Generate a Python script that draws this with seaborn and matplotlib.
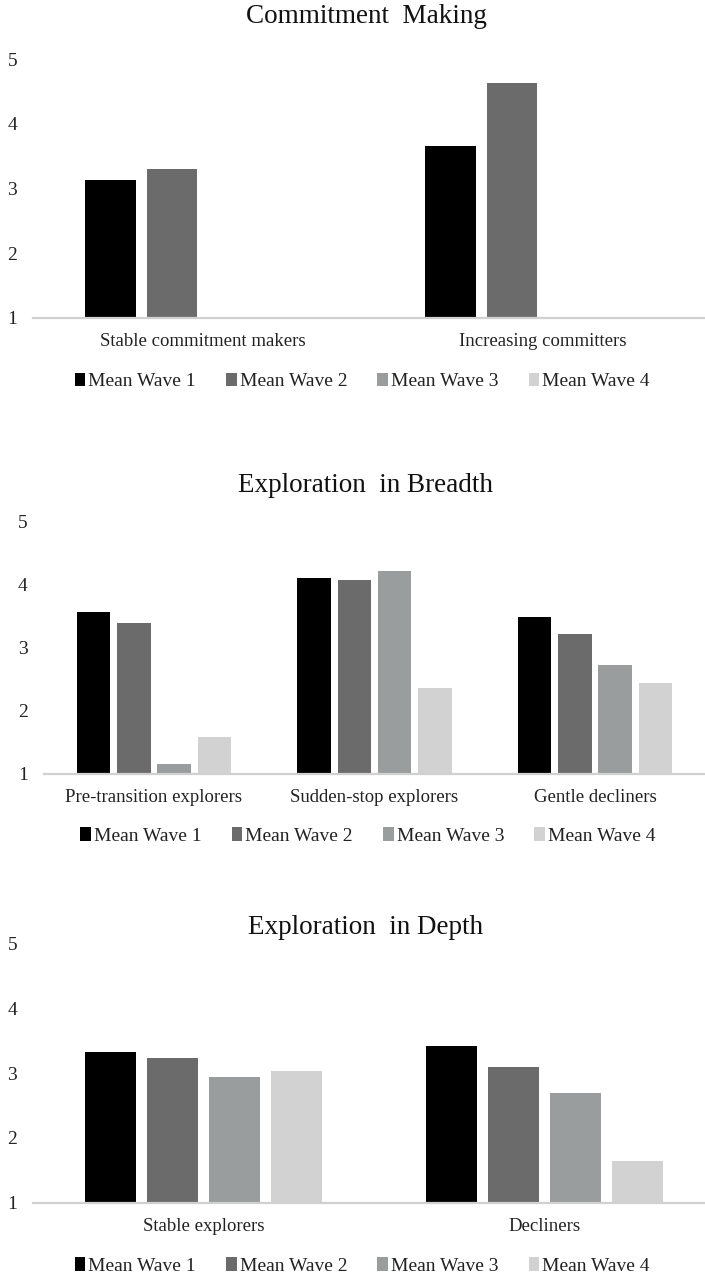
import matplotlib

matplotlib.use("Agg")
import matplotlib.pyplot as plt
import pandas as pd
import seaborn as sns
from matplotlib.patches import Patch

sns.set_theme(style="white")
plt.rcParams["font.family"] = ["Liberation Serif", "DejaVu Serif"]

waves = ["Mean Wave 1", "Mean Wave 2", "Mean Wave 3", "Mean Wave 4"]
wave_colors = ["#000000", "#6b6b6b", "#9a9d9e", "#d2d2d2"]

# Commitment Making (only waves 1-2 reported)
commit_groups = ["Stable commitment makers", "Increasing committers"]
commit_w1 = [3.13, 3.66]
commit_w2 = [3.31, 4.64]

# Exploration in Breadth
breadth_groups = ["Pre-transition explorers", "Sudden-stop explorers", "Gentle decliners"]
breadth_w1 = [3.57, 4.10, 3.49]
breadth_w2 = [3.40, 4.07, 3.22]
breadth_w3 = [1.16, 4.22, 2.73]
breadth_w4 = [1.59, 2.36, 2.44]

# Exploration in Depth
depth_groups = ["Stable explorers", "Decliners"]
depth_w1 = [3.32, 3.41]
depth_w2 = [3.23, 3.09]
depth_w3 = [2.94, 2.69]
depth_w4 = [3.03, 1.65]


def long_frame(groups, series):
    rows = []
    for wave, vals in zip(waves, series):
        for g, v in zip(groups, vals):
            rows.append({"group": g, "wave": wave, "value": v})
    return pd.DataFrame(rows)


W, H = 705, 1274
fig = plt.figure(figsize=(W / 100, H / 100), dpi=100)


def px_axes(left, right, top, bottom):
    return fig.add_axes([left / W, 1 - bottom / H, (right - left) / W, (bottom - top) / H])


def draw_panel(ax, df, groups, title, spacing, title_base, width, gap):
    sns.barplot(data=df, x="group", y="value", hue="wave", order=groups,
                hue_order=waves, palette=wave_colors, saturation=1,
                width=width, gap=gap, linewidth=0, errorbar=None,
                legend=False, ax=ax)
    left_px = ax.get_position().x0 * W
    right_px = ax.get_position().x1 * W
    ax.set_xlim(-0.5, -0.5 + (right_px - left_px) / spacing)
    ax.set_ylim(1, 5)
    ax.set_yticks([1, 2, 3, 4, 5])
    ax.set_xlabel("")
    ax.set_ylabel("")
    sns.despine(ax=ax, left=True)
    ax.spines["bottom"].set_color("#d0d0d0")
    ax.spines["bottom"].set_linewidth(1.6)
    ax.tick_params(axis="y", length=0, pad=11.5, labelsize=14, labelcolor="#222222")
    ax.tick_params(axis="x", length=0, pad=11, labelsize=13.5, labelcolor="#222222")
    fig.text(366 / W, 1 - title_base / H, title, ha="center", va="baseline",
             fontsize=19.5, color="#111111")
    handles = [Patch(facecolor=c, edgecolor="none", label=w)
               for w, c in zip(waves, wave_colors)]
    ax.legend(handles=handles, loc="center", bbox_to_anchor=(0.49, -0.245),
              ncol=4, frameon=False, fontsize=14, handlelength=0.55,
              handleheight=0.7, handletextpad=0.15, columnspacing=1.55,
              labelcolor="#222222")


ax1 = px_axes(33, 705, 59.3, 318)
draw_panel(ax1, long_frame(commit_groups, [commit_w1, commit_w2]),
           commit_groups, "Commitment  Making", 340, 23, 0.725, 0.18)

ax2 = px_axes(43.7, 705, 521.7, 774)
draw_panel(ax2, long_frame(breadth_groups, [breadth_w1, breadth_w2, breadth_w3, breadth_w4]),
           breadth_groups, "Exploration  in Breadth", 220.5, 492, 0.73, 0.17)

ax3 = px_axes(33, 705, 943.3, 1202.7)
draw_panel(ax3, long_frame(depth_groups, [depth_w1, depth_w2, depth_w3, depth_w4]),
           depth_groups, "Exploration  in Depth", 341, 934, 0.725, 0.18)

fig.savefig("out.png", dpi=100)
